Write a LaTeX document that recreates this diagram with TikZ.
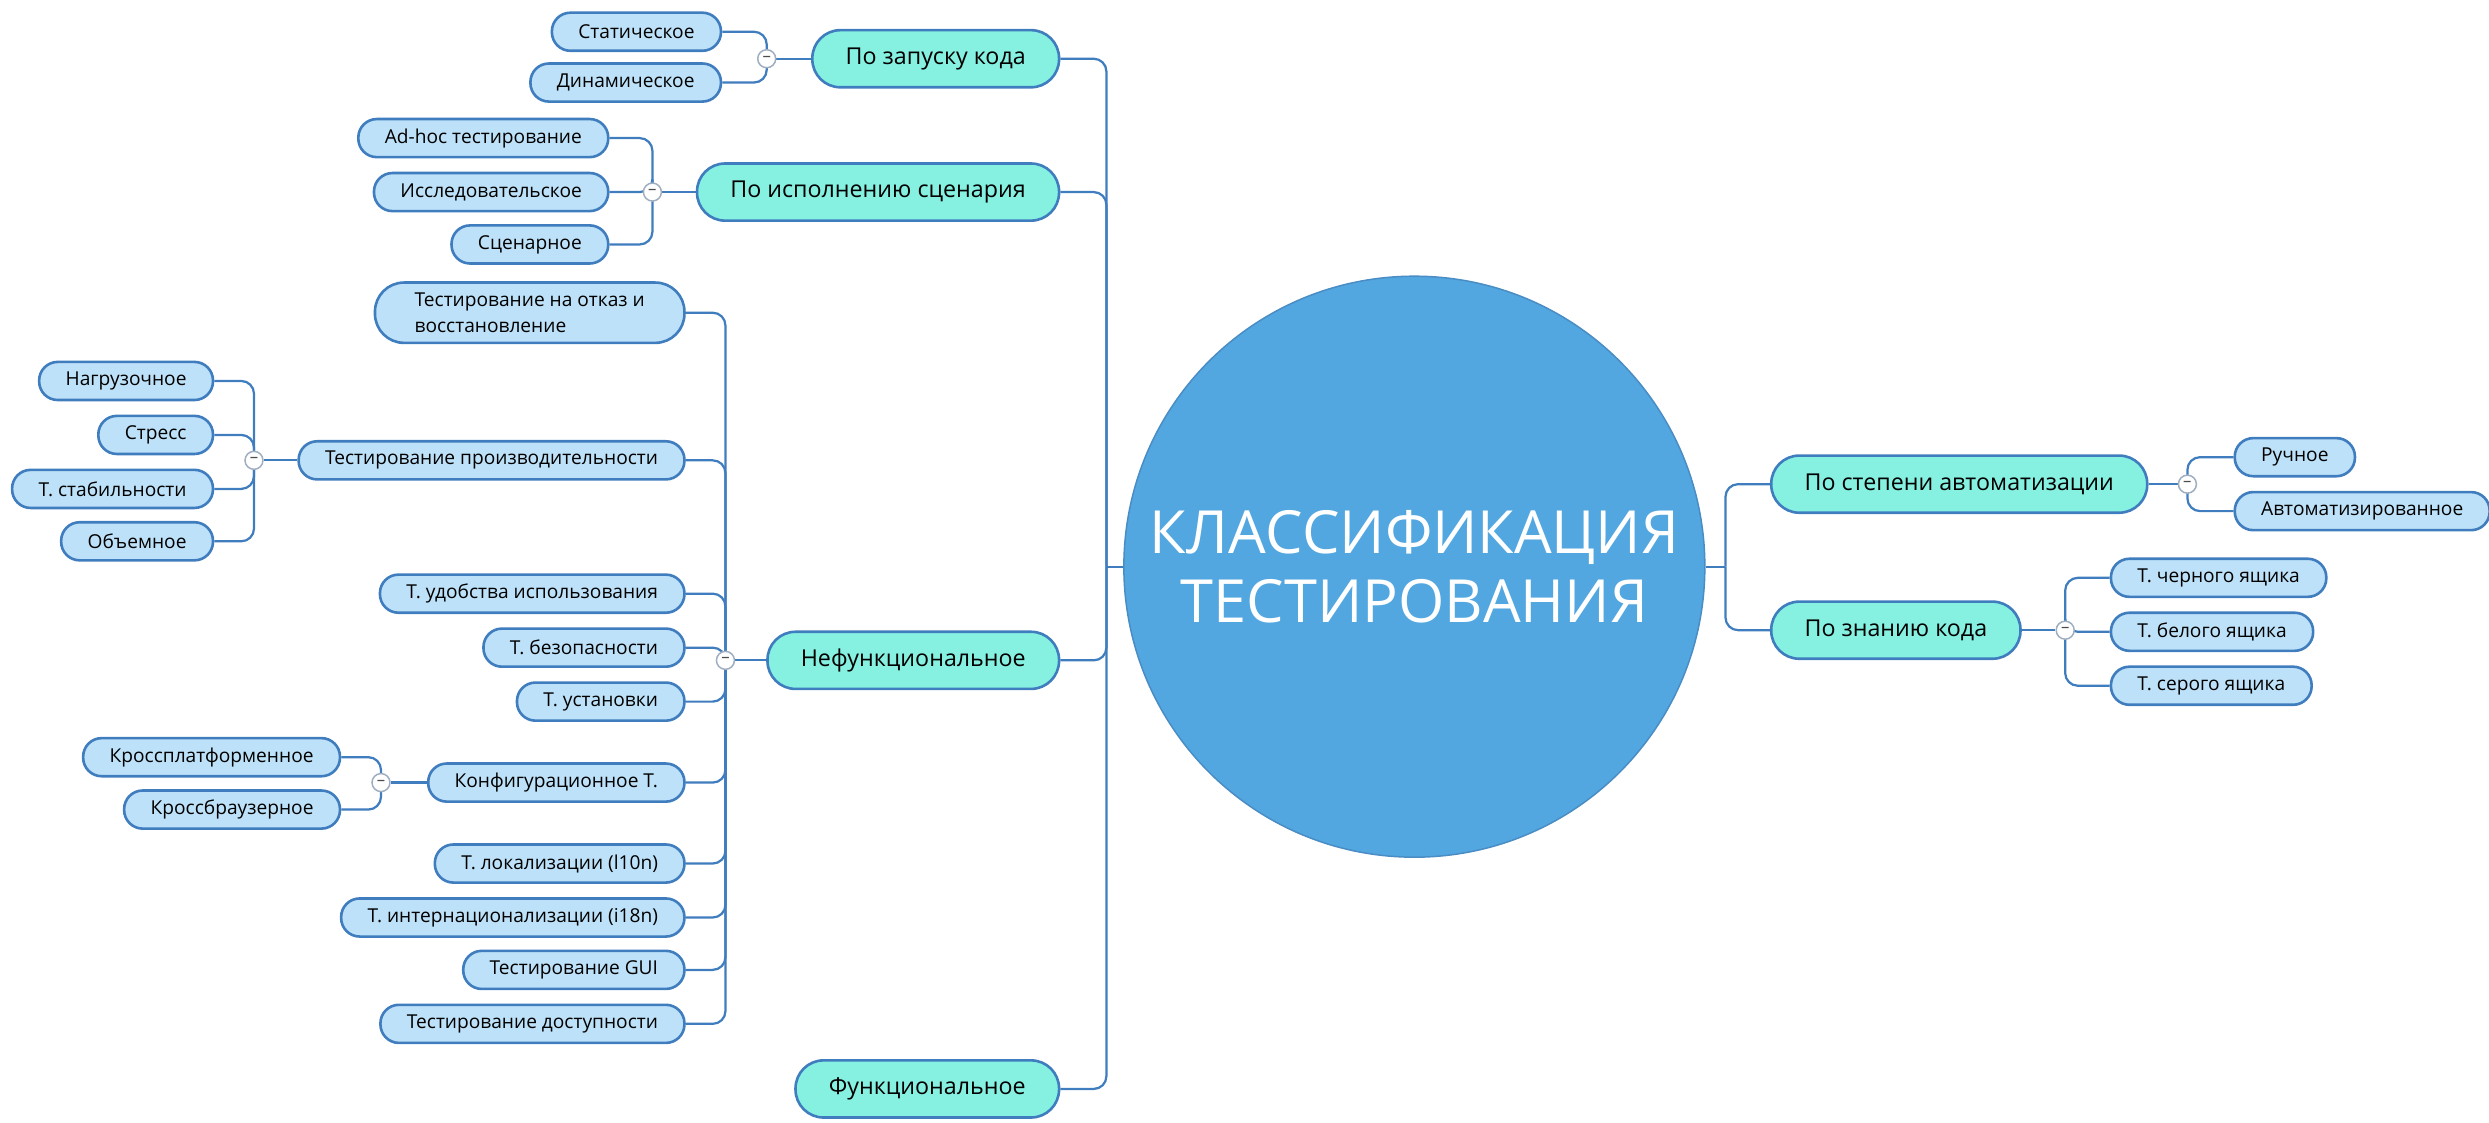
\documentclass[tikz,border=0pt]{standalone}
\usepackage{fontspec}
\setmainfont{Open Sans}
\usetikzlibrary{calc,backgrounds}

\definecolor{edgeblue}{HTML}{3F7DBF}
\definecolor{branchfill}{HTML}{86F0E1}
\definecolor{leaffill}{HTML}{BDE1F8}
\definecolor{rootfill}{HTML}{52A7E0}
\definecolor{rootline}{HTML}{4A8CC4}
\definecolor{hubline}{HTML}{9FAEC0}

\tikzset{
  root/.style={circle,draw=rootline,fill=rootfill,line width=0.8pt,
    minimum size=109.8mm,inner sep=0pt,text=white,align=center,
    font=\fontsize{32}{37}\selectfont},
  branch/.style={draw=edgeblue,fill=branchfill,line width=1.4pt,
    rounded corners=5.3mm,minimum height=10.8mm,inner xsep=6.3mm,inner ysep=0pt,
    font=\fontsize{12.5}{15}\selectfont},
  leaf/.style={draw=edgeblue,fill=leaffill,line width=1.4pt,
    rounded corners=3.5mm,minimum height=7.2mm,inner xsep=5mm,inner ysep=0pt,
    font=\fontsize{10.3}{13.5}\selectfont},
  hub/.style={circle,draw=hubline,fill=white,line width=0.8pt,
    minimum size=3.4mm,inner sep=0pt,text=black!70,
    font=\fontsize{9}{9}\selectfont},
  link/.style={draw=edgeblue,line width=1.2pt,rounded corners=2.4mm}
}

\begin{document}
\begin{tikzpicture}[x=0.3mm,y=-0.3mm]
\useasboundingbox (0,0) rectangle (1568,707);

% centre
\node[root] (root) at (891,357) {КЛАССИФИКАЦИЯ\\ТЕСТИРОВАНИЯ};
\coordinate (hubL) at (697,357);
\coordinate (hubR) at (1087,357);

% left main branches
\node[branch,anchor=east] (zapusk) at (668,37) {По запуску кода};
\node[branch,anchor=east] (ispoln) at (668,121) {По исполнению сценария};
\node[branch,anchor=east] (nefunk) at (668,416) {Нефункциональное};
\node[branch,anchor=east] (funk) at (668,686) {Функциональное};

% right main branches
\node[branch,anchor=west] (avto) at (1115,305) {По степени автоматизации};
\node[branch,anchor=west] (znanie) at (1115,397) {По знанию кода};

% hubs
\node[hub] (hZap) at (483,37) {–};
\node[hub] (hIsp) at (411,121) {–};
\node[hub] (hNef) at (457,416) {–};
\node[hub] (hPerf) at (160,290) {–};
\node[hub] (hKonf) at (240,493) {–};
\node[hub] (hAvto) at (1378,305) {–};
\node[hub] (hZnan) at (1301,397) {–};

% po zapusku
\node[leaf,anchor=east] (stat) at (455,20) {Статическое};
\node[leaf,anchor=east] (dinam) at (455,52) {Динамическое};

% po ispolneniyu
\node[leaf,anchor=east] (adhoc) at (384,87) {Ad-hoc тестирование};
\node[leaf,anchor=east] (issl) at (384,121) {Исследовательское};
\node[leaf,anchor=east] (scen) at (384,154) {Сценарное};

% nefunkcionalnoe
\node[leaf,anchor=east,align=left,rounded corners=5.5mm,
  minimum height=11.4mm,inner xsep=7.5mm] (otkaz) at (432,197)
  {Тестирование на отказ и\\восстановление};
\node[leaf,anchor=east] (perf) at (432,290) {Тестирование производительности};
\node[leaf,anchor=east] (udob) at (432,374) {Т. удобства использования};
\node[leaf,anchor=east] (bezop) at (432,408) {Т. безопасности};
\node[leaf,anchor=east] (ustan) at (432,442) {Т. установки};
\node[leaf,anchor=east] (konf) at (432,493) {Конфигурационное Т.};
\node[leaf,anchor=east] (lokal) at (432,544) {Т. локализации (l10n)};
\node[leaf,anchor=east] (inter) at (432,578) {Т. интернационализации (i18n)};
\node[leaf,anchor=east] (gui) at (432,611) {Тестирование GUI};
\node[leaf,anchor=east] (dostup) at (432,645) {Тестирование доступности};

% proizvoditelnost
\node[leaf,anchor=east] (nagr) at (135,240) {Нагрузочное};
\node[leaf,anchor=east] (stress) at (135,274) {Стресс};
\node[leaf,anchor=east] (stab) at (135,308) {Т. стабильности};
\node[leaf,anchor=east] (obem) at (135,341) {Объемное};

% konfiguracionnoe
\node[leaf,anchor=east] (krplat) at (215,477) {Кроссплатформенное};
\node[leaf,anchor=east] (krbr) at (215,510) {Кроссбраузерное};

% right leaves
\node[leaf,anchor=west] (ruch) at (1407,288) {Ручное};
\node[leaf,anchor=west] (avtom) at (1407,322) {Автоматизированное};
\node[leaf,anchor=west] (cherny) at (1329,364) {Т. черного ящика};
\node[leaf,anchor=west] (bely) at (1329,398) {Т. белого ящика};
\node[leaf,anchor=west] (sery) at (1329,432) {Т. серого ящика};

\begin{scope}[on background layer]
  \foreach \b in {zapusk,ispoln,nefunk,funk}
    \draw[link] (\b.east) -| (hubL);
  \draw[link] (hubL) -- (root.west);
  \draw[link] (root.east) -- (hubR);
  \foreach \b in {avto,znanie}
    \draw[link] (hubR) |- (\b.west);

  \foreach \c in {stat,dinam}
    \draw[link] (\c.east) -| (hZap.center);
  \draw[link] (hZap) -- (zapusk.west);

  \foreach \c in {adhoc,issl,scen}
    \draw[link] (\c.east) -| (hIsp.center);
  \draw[link] (hIsp) -- (ispoln.west);

  \foreach \c in {otkaz,perf,udob,bezop,ustan,konf,lokal,inter,gui,dostup}
    \draw[link] (\c.east) -| (hNef.center);
  \draw[link] (hNef) -- (nefunk.west);

  \foreach \c in {nagr,stress,stab,obem}
    \draw[link] (\c.east) -| (hPerf.center);
  \draw[link] (hPerf) -- (perf.west);

  \foreach \c in {krplat,krbr}
    \draw[link] (\c.east) -| (hKonf.center);
  \draw[link] (hKonf) -- (konf.west);

  \draw[link] (avto.east) -- (hAvto);
  \foreach \c in {ruch,avtom}
    \draw[link] (hAvto.center) |- (\c.west);

  \draw[link] (znanie.east) -- (hZnan);
  \foreach \c in {cherny,bely,sery}
    \draw[link] (hZnan.center) |- (\c.west);
\end{scope}

\end{tikzpicture}
\end{document}
